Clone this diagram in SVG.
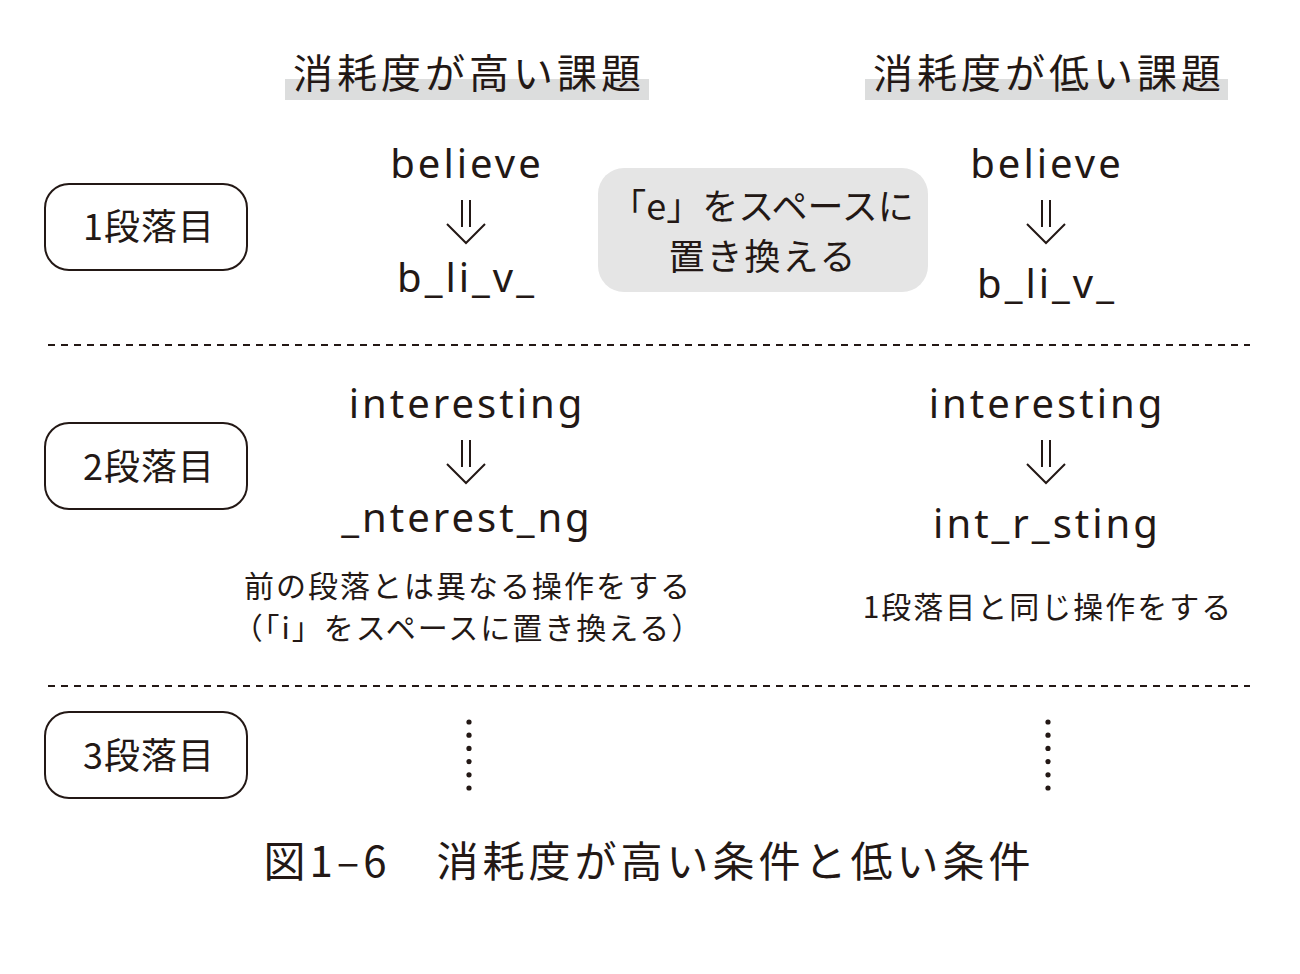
<svg xmlns="http://www.w3.org/2000/svg" width="1300" height="974" viewBox="0 0 1300 974">
<style>
text{font-family:"Noto Sans CJK JP","Noto Sans",sans-serif;fill:#231815;text-anchor:middle}
.h{font-size:40px;letter-spacing:4px}
.w{font-family:"Noto Sans","Open Sans",sans-serif;font-size:40px;letter-spacing:3px}
.lb{font-size:36px}
.s{font-size:30px;letter-spacing:2px}
.box{fill:#fff;stroke:#231815;stroke-width:2}
.ar{fill:none;stroke:#231815;stroke-width:2}
.dash{stroke:#231815;stroke-width:2;stroke-dasharray:7 6}
</style>
<defs>
<g id="arrow"><path class="ar" d="M-4,-29 V-2 M4,-29 V-2 M-19,-5 L0,14 L19,-5"/></g>
<g id="dots" fill="#231815"><circle cx="0" cy="0" r="2.6"/><circle cx="0" cy="13.2" r="2.6"/><circle cx="0" cy="26.4" r="2.6"/><circle cx="0" cy="39.6" r="2.6"/><circle cx="0" cy="52.8" r="2.6"/><circle cx="0" cy="66" r="2.6"/></g>
</defs>
<g id="header-high"><rect x="285" y="79" width="364" height="21" fill="#dcdddd"/><text class="h" x="469" y="88">消耗度が高い課題</text></g>
<g id="header-low"><rect x="865" y="79" width="363" height="21" fill="#dcdddd"/><text class="h" x="1049" y="88">消耗度が低い課題</text></g>
<g id="p1"><rect class="box" x="45" y="184" width="202" height="86" rx="24"/><text class="lb" x="149" y="240" letter-spacing="1">1段落目</text></g>
<g id="p2"><rect class="box" x="45" y="423" width="202" height="86" rx="24"/><text class="lb" x="149" y="480" letter-spacing="1">2段落目</text></g>
<g id="p3"><rect class="box" x="45" y="712" width="202" height="86" rx="24"/><text class="lb" x="149" y="769" letter-spacing="1">3段落目</text></g>
<g id="note"><rect x="598" y="168" width="330" height="124" rx="26" fill="#e5e5e5"/><text class="lb" x="762" y="220" letter-spacing="0">「e」をスペースに</text><text class="lb" x="763" y="270" letter-spacing="2">置き換える</text></g>
<g id="hi1"><text class="w" x="467" y="178">believe</text><use href="#arrow" x="466" y="229"/><text class="w" x="467" y="292">b_li_v_</text></g>
<g id="lo1"><text class="w" x="1047" y="178">believe</text><use href="#arrow" x="1046" y="229"/><text class="w" x="1047" y="298">b_li_v_</text></g>
<g id="hi2"><text class="w" x="467" y="418">interesting</text><use href="#arrow" x="466" y="469"/><text class="w" x="467" y="532">_nterest_ng</text>
<text class="s" x="468" y="597">前の段落とは異なる操作をする</text><text class="s" x="468" y="639">（「i」をスペースに置き換える）</text></g>
<g id="lo2"><text class="w" x="1047" y="418">interesting</text><use href="#arrow" x="1046" y="469"/><text class="w" x="1047" y="538">int_r_sting</text>
<text class="s" x="1048" y="618">1段落目と同じ操作をする</text></g>
<g id="connectors">
<line class="dash" x1="48" y1="345" x2="1250" y2="345"/>
<line class="dash" x1="48" y1="686" x2="1250" y2="686"/>
<use href="#dots" x="469" y="722"/><use href="#dots" x="1048" y="722"/>
</g>
<text x="649" y="877" font-size="42" letter-spacing="4" xml:space="preserve">図1‒6　消耗度が高い条件と低い条件</text>
</svg>
